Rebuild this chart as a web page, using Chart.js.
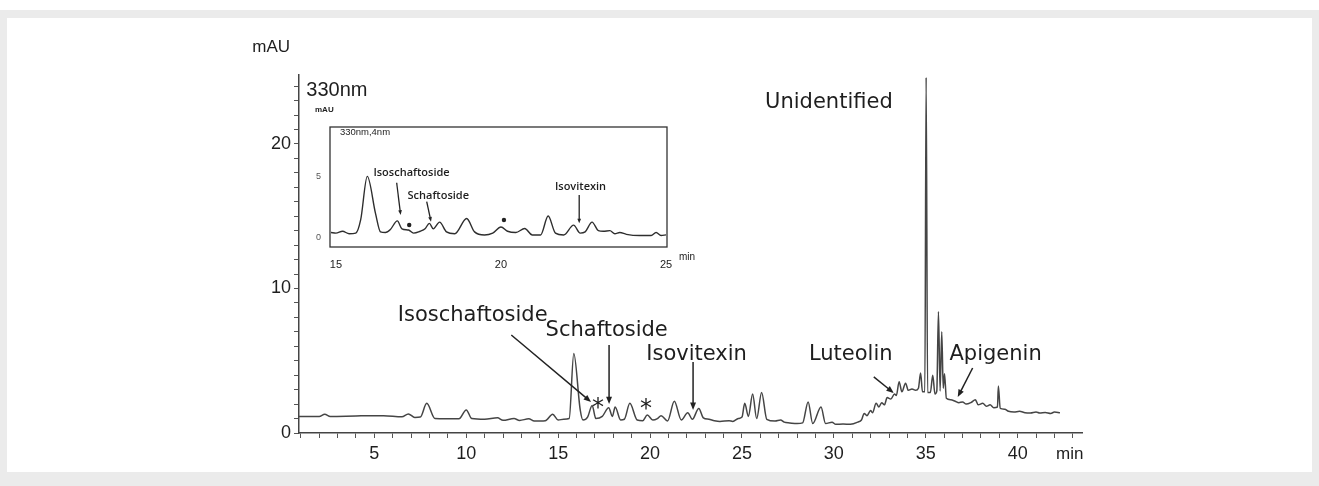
<!DOCTYPE html>
<html>
<head>
<meta charset="utf-8">
<script src="https://cdn.jsdelivr.net/npm/chart.js@4.4.1/dist/chart.umd.min.js"></script>
<style>
  html, body { margin:0; padding:0; background:#fff; }
  body { width:1319px; height:486px; position:relative; overflow:hidden; }
  #frame { position:absolute; left:0; top:10px; width:1319px; height:476px; background:#ebebeb; }
  #inner { position:absolute; left:7px; top:18px; width:1305px; height:454px; background:#fff; }
  #main { position:absolute; left:0; top:0; }
  #inset { position:absolute; left:300px; top:98px; }
</style>
</head>
<body>
<div id="frame"></div>
<div id="inner"></div>
<canvas id="main" width="1319" height="486"></canvas>
<canvas id="inset" width="400" height="172"></canvas>
<script>
// ---------- DATA ----------
// Main chromatogram (330 nm): retention time (min) and absorbance (mAU)
const mainTime = [
  0.9, 2.0, 2.3, 2.6, 4.0, 5.5, 6.5, 6.85, 7.2, 7.5, 7.85, 8.3, 9.6, 10.0, 10.3,
  11.0, 11.7, 12.0, 12.6, 12.9, 13.4, 13.7, 14.3, 14.7, 15.0, 15.3, 15.6, 15.85, 16.2, 16.35,
  16.6, 16.85, 17.05, 17.4, 17.75, 17.95, 18.1, 18.4, 18.6, 18.9, 19.3, 19.6, 19.85, 20.15, 20.4,
  20.6, 20.95, 21.32, 21.7, 22.05, 22.3, 22.65, 22.9, 23.2, 23.5, 23.8, 24.3, 24.5, 24.8, 25.0,
  25.15, 25.35, 25.58, 25.8, 26.07, 26.35, 26.8, 27.1, 27.3, 27.6, 28.0, 28.3, 28.6, 28.85, 29.3,
  29.55, 29.9, 30.1, 30.5, 30.9, 31.3, 31.5, 31.65, 31.8, 32.0, 32.1, 32.3, 32.45, 32.6, 32.75,
  32.9, 33.1, 33.3, 33.4, 33.55, 33.7, 33.9, 34.05, 34.25, 34.45, 34.6, 34.72, 34.82, 34.95, 35.02,
  35.1, 35.25, 35.38, 35.5, 35.6, 35.69, 35.78, 35.87, 35.95, 36.02, 36.12, 36.36, 36.6, 36.8, 37.0,
  37.2, 37.45, 37.7, 37.85, 38.1, 38.3, 38.5, 38.7, 38.9, 38.95, 39.05, 39.3, 39.5, 39.8, 40.1,
  40.4, 40.7, 41.0, 41.2, 41.5, 41.8, 42.0, 42.3
];
const mainSignal = [
  1.15, 1.15, 1.3, 1.15, 1.18, 1.2, 1.12, 1.32, 1.08, 1.1, 2.05, 1.0, 0.98, 1.6, 1.0,
  0.95, 1.05, 0.88, 1.0, 0.87, 0.98, 0.83, 0.85, 1.3, 0.9, 0.95, 1.0, 5.5, 1.6, 0.9,
  1.1, 1.9, 1.0, 1.15, 1.75, 1.15, 1.8, 0.9, 0.95, 2.05, 0.9, 0.85, 1.25, 0.9, 1.0,
  1.2, 0.83, 2.2, 0.9, 1.4, 0.95, 1.7, 1.05, 0.95, 0.85, 0.8, 0.85, 0.8, 1.0, 1.1,
  2.05, 1.15, 2.7, 1.0, 2.8, 0.95, 0.83, 0.9, 0.75, 0.7, 0.65, 0.7, 2.15, 0.65, 1.8,
  0.65, 0.75, 0.6, 0.62, 0.6, 0.75, 0.9, 1.35, 1.2, 1.55, 1.4, 2.05, 1.8, 2.1, 1.95,
  2.45, 2.35, 2.7, 2.6, 3.55, 2.85, 3.45, 2.95, 3.05, 2.95, 3.1, 4.15, 2.85, 2.85, 24.6,
  2.8, 2.8, 4.0, 2.7, 2.9, 8.4, 2.9, 7.0, 3.1, 4.1, 2.4, 2.3, 2.2, 2.1, 2.15,
  2.0, 2.1, 2.3, 1.95, 2.05, 1.85, 1.95, 1.75, 1.8, 3.25, 1.7, 1.65, 1.5, 1.45, 1.5,
  1.4, 1.38, 1.45, 1.38, 1.42, 1.35, 1.45, 1.4
];
// Inset chromatogram (330nm,4nm), 15–25 min
const insetTime = [
  14.85, 15.0, 15.2, 15.4, 15.6, 15.75, 15.95, 16.2, 16.35, 16.5, 16.65, 16.86, 17.0, 17.2, 17.35,
  17.55, 17.7, 17.83, 17.95, 18.14, 18.35, 18.6, 18.96, 19.2, 19.5, 19.75, 20.0, 20.2, 20.45, 20.72,
  20.95, 21.2, 21.43, 21.65, 21.9, 22.2, 22.4, 22.55, 22.76, 22.95, 23.1, 23.3, 23.45, 23.6, 23.8,
  24.2, 24.55, 24.7, 24.85, 25.0
];
const insetSignal = [
  0.45, 0.4, 0.55, 0.35, 0.4, 1.5, 5.05, 2.0, 0.5, 0.45, 0.7, 1.4, 0.75, 0.65, 0.4,
  0.55, 0.75, 1.2, 0.75, 1.3, 0.5, 0.35, 1.6, 0.5, 0.25, 0.4, 0.9, 0.55, 0.45, 0.78,
  0.25, 0.25, 1.8, 0.4, 0.25, 1.05, 0.4, 0.5, 1.3, 0.6, 0.55, 0.6, 0.35, 0.45, 0.3,
  0.2, 0.2, 0.45, 0.2, 0.25
];
// Tick labels
const mainXTickLabels = [5, 10, 15, 20, 25, 30, 35, 40];
const mainYTickLabels = [0, 10, 20];
const insetXTickLabels = [15, 20, 25];
const insetYTickLabels = [0, 5];
// Peak annotations
const mainPeakNames = ['Isoschaftoside', 'Schaftoside', 'Isovitexin', 'Luteolin', 'Apigenin', 'Unidentified'];
const insetPeakNames = ['Isoschaftoside', 'Schaftoside', 'Isovitexin'];

// ---------- ANNOTATION LAYOUT ----------
const SANS = '"DejaVu Sans", sans-serif';
const ARIAL = '"Liberation Sans", Arial, sans-serif';
const OPEN = '"Open Sans", sans-serif';
const mainTexts = [
  { text: '330nm', t: 1.3, v: 23.7, font: '20px ' + ARIAL, align: 'left' },
  { text: mainPeakNames[5], t: 29.73, v: 22.84, font: '21px ' + SANS, align: 'center' },
  { text: mainPeakNames[0], t: 10.35, v: 8.1, font: '21px ' + SANS, align: 'center' },
  { text: mainPeakNames[1], t: 17.64, v: 7.06, font: '21px ' + SANS, align: 'center' },
  { text: mainPeakNames[2], t: 22.53, v: 5.4, font: '21px ' + SANS, align: 'center' },
  { text: mainPeakNames[3], t: 30.92, v: 5.4, font: '21px ' + SANS, align: 'center' },
  { text: mainPeakNames[4], t: 38.8, v: 5.4, font: '21px ' + SANS, align: 'center' },
  { text: '*', t: 17.17, v: 1.7, font: '24px ' + SANS, align: 'center' },
  { text: '*', t: 19.78, v: 1.6, font: '24px ' + SANS, align: 'center' }
];
const mainArrows = [
  { from: [12.45, 6.78], to: [16.79, 2.15] },
  { from: [17.77, 6.09], to: [17.77, 2.0] },
  { from: [22.34, 4.91], to: [22.34, 1.59] },
  { from: [32.17, 3.88], to: [33.26, 2.77] },
  { from: [37.55, 4.5], to: [36.74, 2.49] }
];
const insetTexts = [
  { text: '330nm,4nm', t: 15.12, v: 8.69, font: '9.5px ' + ARIAL, align: 'left' },
  { text: insetPeakNames[0], t: 17.29, v: 5.35, font: '600 11px ' + OPEN, align: 'center' },
  { text: insetPeakNames[1], t: 18.1, v: 3.44, font: '600 11px ' + OPEN, align: 'center' },
  { text: insetPeakNames[2], t: 22.41, v: 4.18, font: '600 11px ' + OPEN, align: 'center' }
];
const insetArrows = [
  { from: [16.84, 4.53], to: [16.96, 1.89] },
  { from: [17.75, 2.98], to: [17.88, 1.34] },
  { from: [22.37, 3.52], to: [22.37, 1.2] }
];
const insetDots = [[17.22, 1.07], [20.09, 1.48]];

// ---------- HELPERS ----------
function drawArrow(ctx, x0, y0, x1, y1, head, width) {
  const ang = Math.atan2(y1 - y0, x1 - x0);
  ctx.save();
  ctx.strokeStyle = '#222'; ctx.fillStyle = '#222'; ctx.lineWidth = width;
  ctx.beginPath();
  ctx.moveTo(x0, y0);
  ctx.lineTo(x1 - Math.cos(ang) * head * 0.8, y1 - Math.sin(ang) * head * 0.8);
  ctx.stroke();
  ctx.beginPath();
  ctx.moveTo(x1, y1);
  ctx.lineTo(x1 - head * Math.cos(ang - 0.38), y1 - head * Math.sin(ang - 0.38));
  ctx.lineTo(x1 - head * Math.cos(ang + 0.38), y1 - head * Math.sin(ang + 0.38));
  ctx.closePath();
  ctx.fill();
  ctx.restore();
}
function drawTexts(chart, items) {
  const { ctx, scales } = chart;
  ctx.save();
  ctx.fillStyle = '#1e1e1e';
  ctx.textBaseline = 'middle';
  items.forEach(it => {
    ctx.font = it.font;
    ctx.textAlign = it.align;
    ctx.fillText(it.text, scales.x.getPixelForValue(it.t), scales.y.getPixelForValue(it.v));
  });
  ctx.restore();
}

// ---------- MAIN CHART ----------
const mainPlugin = {
  id: 'mainAnno',
  afterDatasetsDraw(chart) {
    const { ctx, scales, chartArea } = chart;
    drawTexts(chart, mainTexts);
    mainArrows.forEach(a => drawArrow(ctx,
      scales.x.getPixelForValue(a.from[0]), scales.y.getPixelForValue(a.from[1]),
      scales.x.getPixelForValue(a.to[0]), scales.y.getPixelForValue(a.to[1]), 8, 1.5));
    ctx.save();
    ctx.fillStyle = '#1e1e1e';
    ctx.font = '17px ' + ARIAL;
    ctx.textBaseline = 'middle';
    ctx.textAlign = 'right';
    ctx.fillText('mAU', chartArea.left - 9, chartArea.top - 27);
    ctx.textAlign = 'left';
    ctx.fillText('min', chartArea.right - 26, chartArea.bottom + 21);
    ctx.restore();
  }
};

new Chart(document.getElementById('main'), {
  type: 'line',
  data: {
    datasets: [{
      data: mainTime.map((t, i) => ({ x: t, y: mainSignal[i] })),
      borderColor: '#454545',
      borderWidth: 1.5,
      pointRadius: 0,
      cubicInterpolationMode: 'monotone',
      fill: false
    }]
  },
  options: {
    responsive: false,
    animation: false,
    devicePixelRatio: 1,
    layout: { padding: { left: 0, top: 74.6, right: 237, bottom: 0 } },
    plugins: { legend: { display: false }, tooltip: { enabled: false } },
    scales: {
      x: {
        type: 'linear', min: 0.9, max: 43.5,
        afterFit(s) { s.height = 53; },
        border: { display: true, color: '#444', width: 1.5 },
        grid: { drawOnChartArea: false, drawTicks: true, tickLength: 5, color: '#555' },
        ticks: {
          stepSize: 1, includeBounds: false, autoSkip: false, maxRotation: 0, padding: 5,
          color: '#1e1e1e', font: { family: '"Liberation Sans", Arial, sans-serif', size: 18 },
          callback: v => mainXTickLabels.includes(v) ? String(v) : ''
        }
      },
      y: {
        type: 'linear', min: 0, max: 24.8,
        afterFit(s) { s.width = 299; },
        border: { display: true, color: '#444', width: 1.5 },
        grid: { drawOnChartArea: false, drawTicks: true, tickLength: 5, color: '#555' },
        ticks: {
          stepSize: 1, includeBounds: false, autoSkip: false, padding: 3,
          color: '#1e1e1e', font: { family: '"Liberation Sans", Arial, sans-serif', size: 18 },
          callback: v => mainYTickLabels.includes(v) ? String(v) : ''
        }
      }
    }
  },
  plugins: [mainPlugin]
});

// ---------- INSET CHART ----------
const insetPlugin = {
  id: 'insetAnno',
  beforeDraw(chart) {
    const { ctx, chartArea } = chart;
    ctx.save();
    ctx.fillStyle = '#fff';
    ctx.fillRect(chartArea.left, chartArea.top, chartArea.right - chartArea.left, chartArea.bottom - chartArea.top);
    ctx.restore();
  },
  afterDatasetsDraw(chart) {
    const { ctx, scales, chartArea } = chart;
    ctx.save();
    ctx.strokeStyle = '#333'; ctx.lineWidth = 1.3;
    ctx.strokeRect(chartArea.left, chartArea.top, chartArea.right - chartArea.left, chartArea.bottom - chartArea.top);
    ctx.restore();
    drawTexts(chart, insetTexts);
    insetArrows.forEach(a => drawArrow(ctx,
      scales.x.getPixelForValue(a.from[0]), scales.y.getPixelForValue(a.from[1]),
      scales.x.getPixelForValue(a.to[0]), scales.y.getPixelForValue(a.to[1]), 5, 1.3));
    ctx.save();
    ctx.fillStyle = '#222';
    insetDots.forEach(d => {
      ctx.beginPath();
      ctx.arc(scales.x.getPixelForValue(d[0]), scales.y.getPixelForValue(d[1]), 2.2, 0, Math.PI * 2);
      ctx.fill();
    });
    ctx.font = 'bold 8px ' + ARIAL;
    ctx.textBaseline = 'middle';
    ctx.textAlign = 'left';
    ctx.fillText('mAU', chartArea.left - 15, chartArea.top - 17);
    ctx.font = '10px ' + ARIAL;
    ctx.fillText('min', chartArea.right + 12, chartArea.bottom + 10);
    ctx.restore();
  }
};

new Chart(document.getElementById('inset'), {
  type: 'line',
  data: {
    datasets: [{
      data: insetTime.map((t, i) => ({ x: t, y: insetSignal[i] })),
      borderColor: '#2e2e2e',
      borderWidth: 1.4,
      pointRadius: 0,
      cubicInterpolationMode: 'monotone',
      fill: false
    }]
  },
  options: {
    responsive: false,
    animation: false,
    devicePixelRatio: 1,
    layout: { padding: { left: 0, top: 29, right: 33, bottom: 0 } },
    plugins: { legend: { display: false }, tooltip: { enabled: false } },
    scales: {
      x: {
        type: 'linear', min: 14.82, max: 25.03,
        afterFit(s) { s.height = 23; },
        border: { display: false },
        grid: { display: false },
        ticks: {
          stepSize: 5, includeBounds: false, autoSkip: false, maxRotation: 0, padding: 3,
          color: '#222', font: { family: '"Liberation Sans", Arial, sans-serif', size: 11 },
          callback: v => insetXTickLabels.includes(v) ? String(v) : ''
        }
      },
      y: {
        type: 'linear', min: -0.74, max: 9.1,
        afterFit(s) { s.width = 30; },
        border: { display: false },
        grid: { display: false },
        ticks: {
          stepSize: 5, includeBounds: false, autoSkip: false, padding: 1,
          color: '#555', font: { family: '"Liberation Sans", Arial, sans-serif', size: 9 },
          callback: v => insetYTickLabels.includes(v) ? String(v) : ''
        }
      }
    }
  },
  plugins: [insetPlugin]
});
</script>
</body>
</html>
